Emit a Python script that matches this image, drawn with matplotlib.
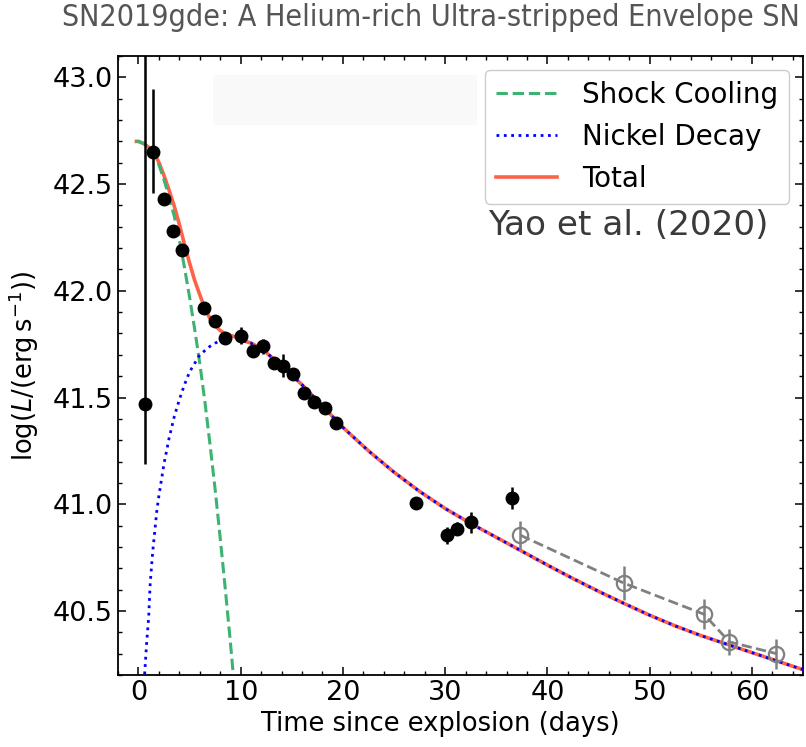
import numpy as np
import matplotlib
matplotlib.use("Agg")
import matplotlib.pyplot as plt
from matplotlib.patches import Rectangle

# detections (filled black points)
t_det = [0.6, 1.47, 2.5, 3.4, 4.3, 6.46, 7.44, 8.48, 10.05, 11.2, 12.2, 13.3,
         14.1, 15.1, 16.2, 17.2, 18.2, 19.3, 27.1, 30.2, 31.2, 32.5, 36.5]
logL_det = [41.47, 42.65, 42.43, 42.28, 42.19, 41.92, 41.86, 41.78, 41.79, 41.72,
            41.74, 41.66, 41.65, 41.61, 41.52, 41.48, 41.45, 41.38, 41.005,
            40.855, 40.885, 40.915, 41.03]
err_lo = [0.28, 0.19, 0.02, 0.02, 0.02, 0.02, 0.02, 0.02, 0.04, 0.02, 0.035, 0.02,
          0.055, 0.02, 0.02, 0.02, 0.02, 0.02, 0.02, 0.04, 0.03, 0.05, 0.05]
err_hi = [1.8, 0.295, 0.02, 0.02, 0.02, 0.02, 0.02, 0.02, 0.04, 0.02, 0.035, 0.02,
          0.055, 0.02, 0.02, 0.02, 0.02, 0.02, 0.02, 0.04, 0.03, 0.05, 0.05]

# late points (open grey circles)
t_late = [37.35, 47.5, 55.3, 57.8, 62.4]
logL_late = [40.855, 40.63, 40.485, 40.355, 40.30]
err_late = [0.065, 0.08, 0.07, 0.06, 0.07]

# model curves
t_sc = [-0.2, 0.0, 0.5, 1.0, 1.5, 2.0, 2.5, 3.0, 3.5, 4.0, 4.5, 5.0, 5.5, 6.0,
        6.5, 7.0, 7.5, 8.0, 8.5, 9.0, 9.5]
logL_sc = [42.70, 42.70, 42.69, 42.67, 42.64, 42.59, 42.52, 42.44, 42.35, 42.24,
           42.11, 41.97, 41.82, 41.66, 41.48, 41.28, 41.07, 40.84, 40.60, 40.35, 40.08]

t_ni = [0.55, 0.6, 0.8, 1.0, 1.15, 1.4, 1.8, 2.0, 2.5, 3.0, 3.5, 4.0, 4.5, 5.0,
        5.5, 6.0, 6.5, 7.0, 7.5, 8.0, 8.5, 9.0, 9.5, 10, 11, 12, 13, 14, 15, 16,
        17, 18, 19, 20, 22.5, 25, 27.5, 30, 32.5, 35, 37.5, 40, 42.5, 45, 47.5,
        50, 52.5, 55, 57.5, 60, 62.5, 65]
logL_ni = [40.10, 40.20, 40.35, 40.47, 40.63, 40.78, 40.97, 41.04, 41.19, 41.31,
           41.41, 41.49, 41.56, 41.62, 41.66, 41.70, 41.72, 41.74, 41.755, 41.765,
           41.77, 41.775, 41.775, 41.77, 41.755, 41.73, 41.69, 41.65, 41.605, 41.56,
           41.51, 41.46, 41.41, 41.36, 41.25, 41.15, 41.06, 40.98, 40.91, 40.845,
           40.78, 40.715, 40.652, 40.592, 40.535, 40.48, 40.43, 40.385, 40.345,
           40.305, 40.265, 40.225]

# total = sum of the two components on a common time grid
t_tot = np.union1d(t_sc, t_ni)
lum_sc = np.where(t_tot <= max(t_sc), 10 ** np.interp(t_tot, t_sc, logL_sc), 0.0)
lum_ni = np.where(t_tot >= min(t_ni), 10 ** np.interp(t_tot, t_ni, logL_ni), 0.0)
logL_tot = np.log10(lum_sc + lum_ni)

fig = plt.figure(figsize=(8.06, 7.47), dpi=100)
ax = fig.add_axes([0.1464, 0.0964, 0.8499, 0.8286])

ax.add_patch(Rectangle((0.139, 0.889), 0.385, 0.08, transform=ax.transAxes,
                       color="#f9f9f9", zorder=0, lw=0))

l_tot, = ax.plot(t_tot, logL_tot, color="tomato", lw=2.6, label="Total", zorder=2)
l_sc, = ax.plot(t_sc, logL_sc, "--", color="mediumseagreen", lw=2.2,
                label="Shock Cooling", zorder=3)
l_ni, = ax.plot(t_ni, logL_ni, ":", color="blue", lw=2.0,
                label="Nickel Decay", zorder=3)

ax.errorbar(t_det, logL_det, yerr=[err_lo, err_hi], fmt="o", color="black",
            ms=9, elinewidth=1.8, capsize=0, zorder=5)
ax.errorbar(t_late, logL_late, yerr=err_late, fmt="o--", color="grey", mfc="none",
            mec="grey", ms=11, mew=1.6, lw=2.0, elinewidth=1.8, capsize=0, zorder=4)

ax.set_xlim(-2, 65)
ax.set_ylim(40.2, 43.1)
ax.set_xticks([0, 10, 20, 30, 40, 50, 60])
ax.set_xticks(np.arange(-2, 66, 2), minor=True)
ax.set_yticks([40.5, 41.0, 41.5, 42.0, 42.5, 43.0])
ax.set_yticks(np.arange(40.2, 43.11, 0.1), minor=True)
ax.tick_params(which="both", direction="in", top=True, right=True, labelsize=19.5)
ax.tick_params(which="major", length=6, width=1.1)
ax.tick_params(which="minor", length=3, width=1.0)
for s in ax.spines.values():
    s.set_linewidth(1.3)

ax.set_xlabel("Time since explosion (days)", fontsize=18.5, x=0.47)
ax.set_ylabel(r"log($L/(\mathrm{erg\,s^{-1}})$)", fontsize=18.5, labelpad=9)

leg = ax.legend(handles=[l_sc, l_ni, l_tot], loc="upper right", fontsize=20,
                fancybox=True, framealpha=1.0, borderaxespad=0.5,
                handlelength=2.2, handletextpad=0.9)
leg.get_frame().set_edgecolor("#cccccc")

ax.text(0.949, 0.727, "Yao et al. (2020)", transform=ax.transAxes, ha="right",
        va="center", fontsize=24.7, color="#3a3a3a")

fig.text(0.534, 0.976, "SN2019gde: A Helium-rich Ultra-stripped Envelope SN",
         ha="center", va="center", fontsize=21.8, color="#555555",
         family=["Liberation Sans Narrow", "DejaVu Sans"], stretch="condensed")

fig.savefig("out.png", dpi=100)
